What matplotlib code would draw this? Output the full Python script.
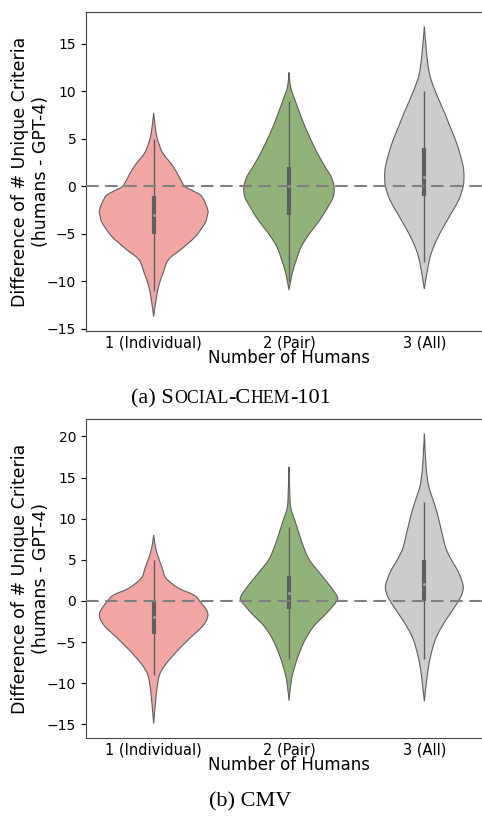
import matplotlib
matplotlib.use("Agg")
import matplotlib.pyplot as plt
from matplotlib.path import Path
from matplotlib.patches import PathPatch
import numpy as np

categories = ["1 (Individual)", "2 (Pair)", "3 (All)"]
fill_colors = ["#f1a5a4", "#92b27a", "#cccccc"]

# Panel (a) SOCIAL-CHEM-101: violin outlines (value level, half-width)
a1_levels = [7.73, 5.6, 4.57, 3.5, 2.1, 0.7, 0.0, -0.5, -1.05, -2.45, -3.15, -3.85, -5.26, -6.66, -7.7, -9.1, -10.5, -11.9, -13.7]
a1_widths = [0, 0.018, 0.037, 0.068, 0.144, 0.2, 0.23, 0.295, 0.355, 0.40, 0.395, 0.38, 0.31, 0.2, 0.11, 0.07, 0.037, 0.018, 0]
a2_levels = [12.0, 10.5, 9.1, 7.7, 6.3, 4.9, 3.5, 2.1, 1.05, 0.0, -1.05, -2.1, -3.5, -4.9, -6.3, -7.7, -9.1, -10.9]
a2_widths = [0, 0.011, 0.044, 0.08, 0.118, 0.162, 0.21, 0.265, 0.31, 0.333, 0.328, 0.29, 0.23, 0.155, 0.092, 0.055, 0.025, 0]
a3_levels = [16.84, 14.0, 11.9, 10.5, 9.1, 7.7, 6.3, 4.9, 3.5, 2.1, 1.05, 0.0, -1.4, -2.8, -4.2, -5.6, -7.0, -8.4, -10.8]
a3_widths = [0, 0.017, 0.037, 0.068, 0.108, 0.151, 0.19, 0.23, 0.262, 0.287, 0.293, 0.287, 0.255, 0.2, 0.144, 0.092, 0.052, 0.028, 0]
a_q1 = [-5, -3, -1]
a_median = [-3, 0, 1]
a_q3 = [-1, 2, 4]
a_whisk_lo = [-11, -10, -8]
a_whisk_hi = [5, 9, 10]

# Panel (b) CMV
b1_levels = [8.0, 6.4, 5.2, 3.97, 2.75, 1.54, 0.73, 0.0, -1.5, -2.9, -4.5, -6.15, -7.77, -9.0, -10.6, -12.6, -14.9]
b1_widths = [0, 0.015, 0.037, 0.064, 0.092, 0.185, 0.295, 0.34, 0.40, 0.37, 0.27, 0.17, 0.086, 0.043, 0.025, 0.012, 0]
b2_levels = [16.3, 14.0, 11.45, 9.8, 8.2, 6.6, 5.0, 3.36, 1.74, 0.52, -0.08, -1.5, -3.1, -4.7, -6.35, -7.97, -9.6, -12.1]
b2_widths = [0, 0.004, 0.012, 0.043, 0.074, 0.107, 0.15, 0.228, 0.307, 0.357, 0.35, 0.277, 0.182, 0.12, 0.076, 0.043, 0.018, 0]
b3_levels = [20.35, 16.5, 14.1, 12.46, 10.84, 9.2, 7.6, 6.4, 5.2, 3.56, 1.94, 0.93, -0.08, -1.7, -3.3, -4.9, -6.95, -9.0, -12.2]
b3_widths = [0, 0.012, 0.03, 0.061, 0.092, 0.117, 0.14, 0.159, 0.193, 0.25, 0.286, 0.28, 0.25, 0.185, 0.123, 0.077, 0.043, 0.022, 0]
b_q1 = [-4, -1, 0]
b_median = [-2, 1, 2]
b_q3 = [0, 3, 5]
b_whisk_lo = [-9, -7, -7]
b_whisk_hi = [5, 9, 12]

line_color = "#5f5f5f"


def smooth_side(pts):
    """Catmull-Rom through the outline points, as cubic bezier path pieces"""
    verts, codes = [], []
    n = len(pts)
    for k in range(n - 1):
        p0 = pts[max(k - 1, 0)]
        p1 = pts[k]
        p2 = pts[k + 1]
        p3 = pts[min(k + 2, n - 1)]
        c1 = p1 + (p2 - p0) / 6.0
        c2 = p2 - (p3 - p1) / 6.0
        verts += [c1, c2, p2]
        codes += [Path.CURVE4] * 3
    return verts, codes


def violin_patch(x0, levels, widths, color):
    lv = np.asarray(levels, float)
    wd = np.asarray(widths, float)
    right = np.column_stack([x0 + wd, lv])
    left = np.column_stack([x0 - wd, lv])[::-1]
    verts, codes = [right[0]], [Path.MOVETO]
    v, c = smooth_side(right)
    verts += v
    codes += c
    v, c = smooth_side(left)
    verts += v
    codes += c
    verts.append(right[0])
    codes.append(Path.CLOSEPOLY)
    return PathPatch(Path(np.array(verts), codes), facecolor=color,
                     edgecolor=line_color, linewidth=0.8, zorder=2)


def draw_violins(ax, levels, widths, q1, med, q3, lo, hi):
    for i, (lv, wd) in enumerate(zip(levels, widths)):
        ax.add_patch(violin_patch(i, lv, wd, fill_colors[i]))
        ax.vlines(i, lo[i], hi[i], color=line_color, lw=1.0, zorder=3)
        ax.vlines(i, q1[i], q3[i], color=line_color, lw=3.0, zorder=3)
        ax.plot(i, med[i], "o", ms=2.2, color="white", alpha=0.4, mec="none", zorder=4)
    ax.axhline(0, color="gray", lw=1.5, ls="--", dashes=(6, 3.2), zorder=5)
    ax.set_xlim(-0.5, 2.5)
    ax.set_xticks(range(len(categories)), categories)
    ax.tick_params(axis="x", length=0, pad=3, labelsize=10.5)
    ax.tick_params(axis="y", labelsize=10, length=3.5)
    ax.set_xlabel("Number of Humans", fontsize=12, labelpad=-1)
    ax.set_ylabel("Difference of # Unique Criteria\n(humans - GPT-4)", fontsize=12.5, labelpad=-2)
    for sp in ax.spines.values():
        sp.set_color("#444444")
    ax.spines["right"].set_visible(False)


def small_caps(fig, pieces, xc, y_base, size):
    """Draw caption text in pieces (text, scale) to fake small capitals"""
    renderer = fig.canvas.get_renderer()
    W = fig.get_figwidth() * fig.dpi
    items = []
    total = 0
    for s, scale in pieces:
        t = fig.text(0, y_base, s, fontsize=size * scale, family="Liberation Serif", va="baseline")
        w = t.get_window_extent(renderer).width
        items.append((t, w))
        total += w
    x = xc * W - total / 2
    for t, w in items:
        t.set_x(x / W)
        x += w


fig = plt.figure(figsize=(4.82, 8.16), dpi=100)
ax_a = fig.add_axes([86 / 482, 1 - 331 / 816, 406 / 482, 319 / 816])
ax_b = fig.add_axes([86 / 482, 1 - 738 / 816, 406 / 482, 319 / 816])

draw_violins(ax_a, [a1_levels, a2_levels, a3_levels], [a1_widths, a2_widths, a3_widths],
             a_q1, a_median, a_q3, a_whisk_lo, a_whisk_hi)
a_all = a1_levels + a2_levels + a3_levels
ax_a.set_ylim(min(a_all) - 0.05 * (max(a_all) - min(a_all)), max(a_all) + 0.05 * (max(a_all) - min(a_all)))
draw_violins(ax_b, [b1_levels, b2_levels, b3_levels], [b1_widths, b2_widths, b3_widths],
             b_q1, b_median, b_q3, b_whisk_lo, b_whisk_hi)
b_all = b1_levels + b2_levels + b3_levels
ax_b.set_ylim(min(b_all) - 0.05 * (max(b_all) - min(b_all)), max(b_all) + 0.05 * (max(b_all) - min(b_all)))

fig.canvas.draw()
small_caps(fig, [("(a) S", 1.0), ("OCIAL", 0.8), ("-C", 1.0), ("HEM", 0.8), ("-101", 1.0)],
           231 / 482, 1 - 403 / 816, 16)
small_caps(fig, [("(b) CMV", 1.0)], 250 / 482, 1 - 806 / 816, 16)

fig.savefig("out.png", dpi=100)
